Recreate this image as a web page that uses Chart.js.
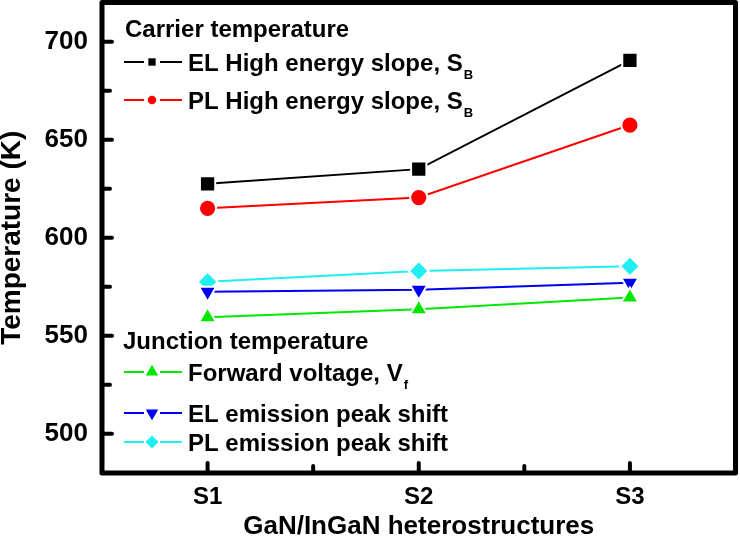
<!DOCTYPE html>
<html>
<head>
<meta charset="utf-8">
<style>
  html, body { margin: 0; padding: 0; background: #fff; }
</style>
<script src="https://cdn.jsdelivr.net/npm/chart.js"></script>
</head>
<body>
<canvas id="tempChart" width="740" height="549"></canvas>
<script>
// Samples along the x axis
const samples = ['S1', 'S2', 'S3'];

// Carrier temperature (K)
const elHighSlope = [627.5, 635, 690.5];
const plHighSlope = [615, 620.5, 657.5];

// Junction temperature (K)
const forwardVoltage = [559.5, 563.5, 569.5];
const elPeakShift = [572.5, 573.5, 577];
const plPeakShift = [577.5, 583, 585.5];

// y axis ticks
const yTicks = [500, 550, 600, 650, 700];
const yMinorTicks = [525, 575, 625, 675];

// Legend text
const legendGroups = ['Carrier temperature', 'Junction temperature'];
const seriesNames = ['EL High energy slope, S', 'PL High energy slope, S', 'Forward voltage, V', 'EL emission peak shift', 'PL emission peak shift'];
const seriesSubs = ['B', 'B', 'f', '', ''];

const FONT = "'Liberation Sans', Arial, sans-serif";

// marker look per series (plot radius includes the white ring that makes the gap)
const seriesStyle = [
    { color: '#000000', point: 'rect', rot: 0, r: 10.8, lr: 5.2 },
    { color: '#ff0000', point: 'circle', rot: 0, r: 8.6, lr: 4.3 },
    { color: '#00e800', point: 'triangle', rot: 0, r: 10, lr: 7.2 },
    { color: '#0000f0', point: 'triangle', rot: 180, r: 10, lr: 7.2 },
    { color: '#20eef0', point: 'rectRot', rot: 0, r: 10, lr: 6.5 }
];
const seriesData = [elHighSlope, plHighSlope, forwardVoltage, elPeakShift, plPeakShift];

// where the in-plot legend goes (canvas pixels)
const legendPos = {
    headerX: [125, 123], headerY: [37, 349],
    lineX: [124, 182], markX: 152, textX: 188,
    rowY: [62, 100, 372, 413, 442]
};

function drawMarker(ctx, style, rot, r, x, y) {
    ctx.beginPath();
    if (style === 'circle') {
        ctx.arc(x, y, r, 0, Math.PI * 2);
    } else if (style === 'rect') {
        const s = r * Math.SQRT1_2;
        ctx.rect(x - s, y - s, 2 * s, 2 * s);
    } else if (style === 'rectRot') {
        ctx.moveTo(x - r, y); ctx.lineTo(x, y - r); ctx.lineTo(x + r, y); ctx.lineTo(x, y + r);
        ctx.closePath();
    } else {
        let a = rot * Math.PI / 180;
        for (let k = 0; k < 3; k++) {
            ctx.lineTo(x + Math.sin(a) * r, y - Math.cos(a) * r);
            a += Math.PI * 2 / 3;
        }
        ctx.closePath();
    }
    ctx.fill();
}

// frame, inward ticks and the grouped legend
const framePlugin = {
    id: 'frame',
    afterDatasetsDraw(chart) {
        const ctx = chart.ctx;
        const { left, right, top, bottom } = chart.chartArea;
        const xs = chart.scales.x, ys = chart.scales.y;
        ctx.save();
        ctx.strokeStyle = '#000';
        ctx.lineCap = 'round';
        ctx.lineWidth = 4;
        const tick = (x1, y1, x2, y2) => { ctx.beginPath(); ctx.moveTo(x1, y1); ctx.lineTo(x2, y2); ctx.stroke(); };
        yTicks.forEach(v => { const y = ys.getPixelForValue(v); tick(left, y, left + 10, y); });
        yMinorTicks.forEach(v => { const y = ys.getPixelForValue(v); tick(left, y, left + 8, y); });
        samples.forEach((s, i) => { const x = xs.getPixelForValue(i); tick(x, bottom, x, bottom - 10); });
        for (let i = 0; i < samples.length - 1; i++) {
            const x = (xs.getPixelForValue(i) + xs.getPixelForValue(i + 1)) / 2;
            tick(x, bottom, x, bottom - 7);
        }
        ctx.lineWidth = 5;
        ctx.lineJoin = 'round';
        ctx.strokeRect(left, top, right - left, bottom - top);

        // legend
        ctx.fillStyle = '#000';
        ctx.textBaseline = 'alphabetic';
        ctx.textAlign = 'left';
        ctx.font = 'bold 24px ' + FONT;
        legendGroups.forEach((g, i) => ctx.fillText(g, legendPos.headerX[i], legendPos.headerY[i]));
        seriesNames.forEach((name, i) => {
            const st = seriesStyle[i];
            const y = legendPos.rowY[i];
            ctx.strokeStyle = st.color;
            ctx.fillStyle = st.color;
            ctx.lineWidth = 2;
            ctx.lineCap = 'butt';
            ctx.beginPath();
            ctx.moveTo(legendPos.lineX[0], y); ctx.lineTo(legendPos.markX - 8, y);
            ctx.moveTo(legendPos.markX + 8, y); ctx.lineTo(legendPos.lineX[1], y);
            ctx.stroke();
            drawMarker(ctx, st.point, st.rot, st.lr, legendPos.markX, y);
            ctx.fillStyle = '#000';
            ctx.font = 'bold 24px ' + FONT;
            ctx.fillText(name, legendPos.textX, y + 8.5);
            if (seriesSubs[i]) {
                const w = ctx.measureText(name).width;
                ctx.font = 'bold 13px ' + FONT;
                ctx.fillText(seriesSubs[i], legendPos.textX + w + 1, y + 16.5);
            }
        });
        ctx.restore();
    }
};

// fixed axis box sizes, no extra label padding
function fixBox(scale, size) {
    if (scale.isHorizontal()) scale.height = size; else scale.width = size;
    scale.paddingTop = 0;
    scale.paddingBottom = 0;
    scale.paddingLeft = 0;
    scale.paddingRight = 0;
}

const ctx = document.getElementById('tempChart').getContext('2d');
const myChart = new Chart(ctx, {
    type: 'line',
    data: {
        labels: samples,
        datasets: seriesData.map((d, i) => ({
            label: seriesNames[i] + seriesSubs[i],
            data: d,
            borderColor: seriesStyle[i].color,
            backgroundColor: seriesStyle[i].color,
            borderWidth: 2,
            pointStyle: seriesStyle[i].point,
            pointRotation: seriesStyle[i].rot,
            pointRadius: seriesStyle[i].r,
            pointBorderColor: '#ffffff',
            pointBorderWidth: 2,
            pointBackgroundColor: seriesStyle[i].color,
            tension: 0
        }))
    },
    options: {
        responsive: false,
        animation: false,
        layout: { autoPadding: false, padding: { top: 2.5, right: 4.5, left: 0, bottom: 0 } },
        plugins: {
            legend: { display: false },
            tooltip: { enabled: false }
        },
        scales: {
            x: {
                type: 'category',
                offset: true,
                grid: { display: false, drawTicks: false },
                border: { display: false },
                ticks: {
                    color: '#000',
                    padding: 10,
                    font: { family: FONT, size: 24, weight: 'bold' }
                },
                title: {
                    display: true,
                    text: 'GaN/InGaN heterostructures',
                    color: '#000',
                    padding: { top: 0, bottom: 6.5 },
                    font: { family: FONT, size: 26, weight: 'bold' }
                },
                afterFit(scale) { fixBox(scale, 76); }
            },
            y: {
                min: 480,
                max: 720,
                grid: { display: false, drawTicks: false },
                border: { display: false },
                afterBuildTicks(scale) { scale.ticks = yTicks.map(v => ({ value: v })); },
                ticks: {
                    color: '#000',
                    padding: 14,
                    font: { family: FONT, size: 26, weight: 'bold' }
                },
                title: {
                    display: true,
                    text: 'Temperature (K)',
                    color: '#000',
                    padding: 0,
                    font: { family: FONT, size: 28, weight: 'bold', lineHeight: 0.86 }
                },
                afterFit(scale) { fixBox(scale, 102); }
            }
        }
    },
    plugins: [framePlugin]
});
</script>
</body>
</html>
